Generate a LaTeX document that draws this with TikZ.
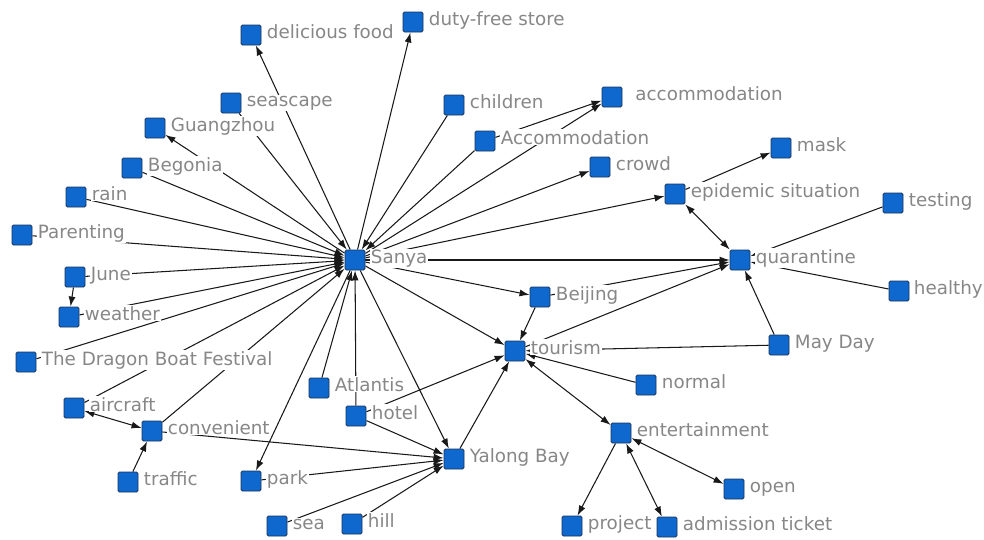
\documentclass[tikz,border=0pt]{standalone}
\usepackage{fontspec}
\setmainfont{DejaVu Sans}
\usetikzlibrary{arrows.meta,calc}
\definecolor{nodeblue}{RGB}{14,104,206}
\definecolor{nodeedge}{RGB}{28,52,92}
\definecolor{lblgray}{RGB}{135,135,135}
\pgfdeclarelayer{edgelayer}
\pgfsetlayers{edgelayer,main}
\tikzset{
  vsq/.style={draw=nodeedge, fill=nodeblue, minimum size=20pt, inner sep=0pt, rounded corners=1.5pt, line width=0.9pt},
  vlbl/.style={anchor=base west, fill=white, text=lblgray, inner sep=0.8pt, font=\fontsize{18.3}{20}\selectfont},
  ed/.style={line width=1.05pt, draw=black!90, -{Latex[length=10pt,width=7pt]}},
  bi/.style={line width=1.05pt, draw=black!90, {Latex[length=10pt,width=7pt]}-{Latex[length=10pt,width=7pt]}}
}
\newcommand\vnode[5][4.5pt]{%
  \node[vsq] (#2) at (#3,#4) {};
  \node[vlbl] (#2-l) at ($(#2.east)+(#1,-3pt)$) {#5};
}
\begin{document}
\begin{tikzpicture}[x=1pt,y=-1pt]
\useasboundingbox (0,0) rectangle (984,539);
\vnode{delicious}{251}{35}{delicious food}
\vnode{duty}{413}{22}{duty-free store}
\vnode{seascape}{231}{103}{seascape}
\vnode{guangzhou}{155}{128}{Guangzhou}
\vnode{begonia}{132}{168}{Begonia}
\vnode{rain}{76}{197}{rain}
\vnode{parenting}{22}{235}{Parenting}
\vnode{june}{75}{277}{June}
\vnode{weather}{69}{317}{weather}
\vnode{dragon}{26}{362}{The Dragon Boat Festival}
\vnode{aircraft}{74}{408}{aircraft}
\vnode{convenient}{152}{431}{convenient}
\vnode{traffic}{128}{482}{traffic}
\vnode{park}{251}{481}{park}
\vnode{sea}{277}{526}{sea}
\vnode{hill}{352}{524}{hill}
\vnode{atlantis}{319}{388}{Atlantis}
\vnode{hotel}{356}{416}{hotel}
\vnode{yalong}{454}{459}{Yalong Bay}
\vnode{sanya}{355}{260}{Sanya}
\vnode{children}{454}{105}{children}
\vnode{Accom}{485}{141}{Accommodation}
\vnode[12pt]{accom}{612}{97}{accommodation}
\vnode{crowd}{600}{167}{crowd}
\vnode{epidemic}{675}{194}{epidemic situation}
\vnode{mask}{781}{148}{mask}
\vnode{testing}{893}{203}{testing}
\vnode{quarantine}{740}{260}{quarantine}
\vnode[3.5pt]{healthy}{899}{291}{healthy}
\vnode{beijing}{540}{297}{Beijing}
\vnode{tourism}{515}{351}{tourism}
\vnode{mayday}{779}{345}{May Day}
\vnode{normal}{646}{385}{normal}
\vnode{entertainment}{621}{433}{entertainment}
\vnode{open}{734}{489}{open}
\vnode{project}{572}{526}{project}
\vnode{admission}{667}{527}{admission ticket}
\begin{pgfonlayer}{edgelayer}
\fill[white] (0,0) rectangle (984,539);
\draw[ed] (sanya) -- (delicious);
\draw[ed] (sanya) -- (duty);
\draw[ed] (seascape) -- (sanya);
\draw[ed] (sanya) -- (guangzhou);
\draw[ed] (begonia) -- (sanya);
\draw[ed] (rain) -- (sanya);
\draw[ed] (parenting) -- (sanya);
\draw[ed] (june) -- (sanya);
\draw[ed] (weather) -- (sanya);
\draw[ed] (dragon) -- (sanya);
\draw[ed] (aircraft) -- (sanya);
\draw[ed] (convenient) -- (sanya);
\draw[ed] (sanya) -- (park);
\draw[ed] (atlantis) -- (sanya);
\draw[ed] (hotel) -- (sanya);
\draw[ed] (sanya) -- (yalong);
\draw[ed] (sanya) -- (tourism);
\draw[ed] (sanya) -- (beijing);
\draw[ed] (sanya) -- (quarantine);
\draw[ed] (sanya) -- (epidemic);
\draw[ed] (sanya) -- (crowd);
\draw[ed] (sanya) -- (accom);
\draw[ed] (Accom) -- (sanya);
\draw[ed] (children) -- (sanya);
\draw[ed] (Accom) -- (accom);
\draw[ed] (june) -- (weather);
\draw[bi] (aircraft) -- (convenient);
\draw[ed] (traffic) -- (convenient);
\draw[ed] (convenient) -- (yalong);
\draw[ed] (park) -- (yalong);
\draw[ed] (sea) -- (yalong);
\draw[ed] (hill) -- (yalong);
\draw[ed] (hotel) -- (yalong);
\draw[ed] (hotel) -- (tourism);
\draw[ed] (yalong) -- (tourism);
\draw[ed] (beijing) -- (tourism);
\draw[ed] (beijing) -- (quarantine);
\draw[ed] (tourism) -- (quarantine);
\draw[ed] (mayday) -- (tourism);
\draw[ed] (mayday) -- (quarantine);
\draw[ed] (normal) -- (tourism);
\draw[bi] (tourism) -- (entertainment);
\draw[ed] (entertainment) -- (project);
\draw[bi] (entertainment) -- (admission);
\draw[bi] (entertainment) -- (open);
\draw[bi] (epidemic) -- (quarantine);
\draw[ed] (epidemic) -- (mask);
\draw[ed] (testing) -- (quarantine);
\draw[ed] (healthy) -- (quarantine);
\end{pgfonlayer}
\end{tikzpicture}
\end{document}
